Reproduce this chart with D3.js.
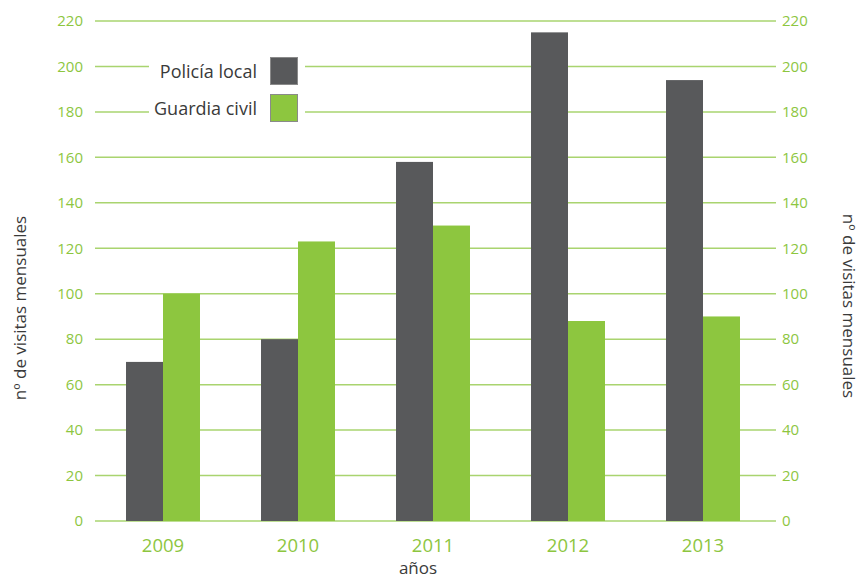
<!DOCTYPE html>
<html>
<head>
<meta charset="utf-8">
<script src="https://cdn.jsdelivr.net/npm/d3@7"></script>
<style>
  body { margin: 0; background: #fff; }
  svg { display: block; font-family: "Open Sans", Lato, sans-serif; }
</style>
</head>
<body>
<svg id="chart"></svg>
<script>
const years = ["2009", "2010", "2011", "2012", "2013"];
const series = ["Policía local", "Guardia civil"];
const policia = [70, 80, 158, 215, 194];
const guardia = [100, 123, 130, 88, 90];
const yTicks = [0, 20, 40, 60, 80, 100, 120, 140, 160, 180, 200, 220];

const width = 860, height = 581;
const dark = "#58595b", green = "#8dc63f", grid = "#a9d46f";

const svg = d3.select("#chart")
    .attr("width", width)
    .attr("height", height);

const x = d3.scaleBand()
    .domain(years)
    .range([95.5, 770.5])
    .paddingInner(0.452)
    .paddingOuter(0.226);

const xs = d3.scaleBand()
    .domain(series)
    .range([0, x.bandwidth()]);

const y = d3.scaleLinear()
    .domain([0, 220])
    .range([521, 21]);

const color = d3.scaleOrdinal().domain(series).range([dark, green]);

// grid lines
svg.append("g")
  .selectAll("line")
  .data(yTicks)
  .join("line")
    .attr("x1", 95)
    .attr("x2", 776)
    .attr("y1", d => y(d))
    .attr("y2", d => y(d))
    .attr("stroke", grid)
    .attr("stroke-width", 1.5);

// left / right tick labels
const tickLabels = (anchor, xpos) => svg.append("g")
  .selectAll("text")
  .data(yTicks)
  .join("text")
    .attr("x", xpos)
    .attr("y", d => y(d))
    .attr("dy", "0.35em")
    .attr("text-anchor", anchor)
    .attr("fill", green)
    .attr("font-size", 15)
    .text(d => d);
tickLabels("end", 83);
tickLabels("start", 782);

// bars
const rows = years.map((yr, i) => ({year: yr, values: [policia[i], guardia[i]]}));
svg.append("g")
  .selectAll("g")
  .data(rows)
  .join("g")
    .attr("transform", d => `translate(${x(d.year)},0)`)
  .selectAll("rect")
  .data(d => d.values.map((v, j) => ({key: series[j], value: v})))
  .join("rect")
    .attr("x", d => xs(d.key))
    .attr("width", xs.bandwidth())
    .attr("y", d => y(d.value))
    .attr("height", d => y(0) - y(d.value))
    .attr("fill", d => color(d.key));

// year labels
svg.append("g")
  .selectAll("text")
  .data(years)
  .join("text")
    .attr("x", d => x(d) + x.bandwidth() / 2)
    .attr("y", 552)
    .attr("text-anchor", "middle")
    .attr("fill", green)
    .attr("font-size", 18.5)
    .text(d => d);

// axis titles
svg.append("text")
    .attr("x", 418)
    .attr("y", 574)
    .attr("text-anchor", "middle")
    .attr("fill", "#3a3a3a")
    .attr("font-size", 17)
    .text("años");

svg.append("text")
    .attr("transform", "translate(20,308) rotate(-90)")
    .attr("text-anchor", "middle")
    .attr("dy", "0.35em")
    .attr("fill", "#3a3a3a")
    .attr("font-size", 17)
    .text("nº de visitas mensuales");

svg.append("text")
    .attr("transform", "translate(849,306) rotate(90)")
    .attr("text-anchor", "middle")
    .attr("dy", "0.35em")
    .attr("fill", "#3a3a3a")
    .attr("font-size", 17)
    .text("nº de visitas mensuales");

// legend
const legend = svg.append("g");
legend.append("rect")
    .attr("x", 149).attr("y", 50)
    .attr("width", 156).attr("height", 76)
    .attr("fill", "#fff");
const item = legend.selectAll("g")
  .data(series)
  .join("g")
    .attr("transform", (d, i) => `translate(0,${57 + i * 37})`);
item.append("rect")
    .attr("x", 270.5).attr("y", 0.5)
    .attr("width", 27).attr("height", 27)
    .attr("fill", d => color(d))
    .attr("stroke", "#8a8a8a")
    .attr("stroke-width", 1);
item.append("text")
    .attr("x", 257)
    .attr("y", 15)
    .attr("dy", "0.35em")
    .attr("text-anchor", "end")
    .attr("fill", "#3a3a3a")
    .attr("font-size", 18)
    .text(d => d);
</script>
</body>
</html>
